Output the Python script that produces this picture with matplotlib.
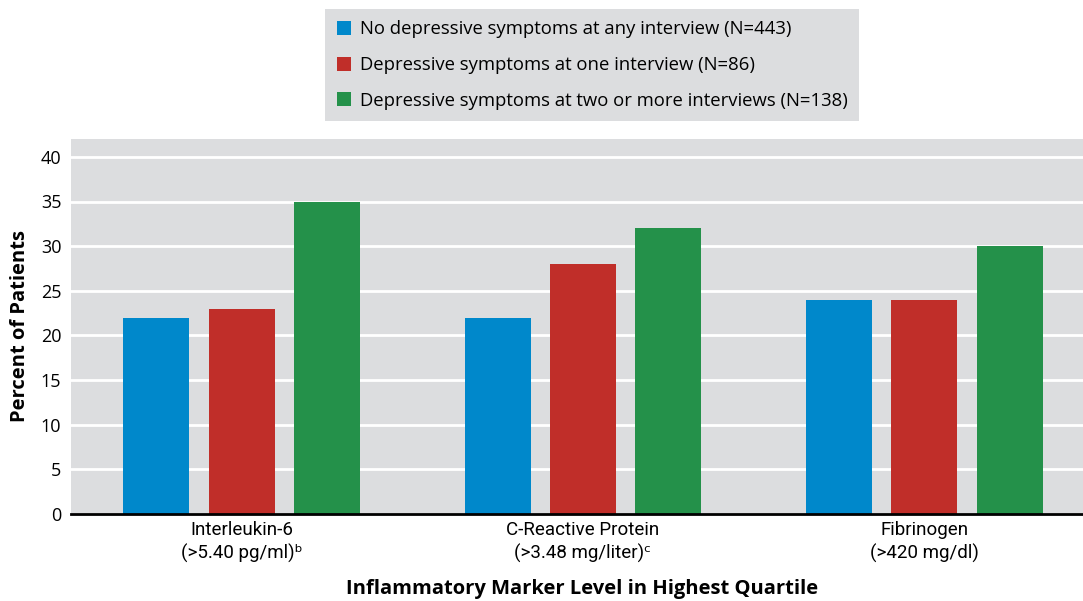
import numpy as np
import matplotlib.pyplot as plt
from matplotlib.patches import Patch

# data
markers = ["Interleukin-6\n(>5.40 pg/ml)ᵇ",
           "C-Reactive Protein\n(>3.48 mg/liter)ᶜ",
           "Fibrinogen\n(>420 mg/dl)"]
series = ["No depressive symptoms at any interview (N=443)",
          "Depressive symptoms at one interview (N=86)",
          "Depressive symptoms at two or more interviews (N=138)"]
no_symptoms = [22, 22, 24]
one_interview = [23, 28, 24]
two_plus = [35, 32, 30]
colors = ["#0088CB", "#C02E29", "#24914A"]

plt.rcParams["font.family"] = ["Open Sans", "DejaVu Sans"]

fig = plt.figure(figsize=(10.83, 6.01), dpi=100)
ax = fig.add_axes([71/1083, 87/601, 1012/1083, 375/601])
ax.set_facecolor("#DCDDDF")

x = np.arange(len(markers))
width = 0.193
step = 0.25
for i, vals in enumerate([no_symptoms, one_interview, two_plus]):
    ax.bar(x + (i - 1) * step, vals, width, color=colors[i], zorder=3)

ax.set_ylim(0, 42)
ax.set_xlim(-0.5, 2.465)
ax.set_yticks(range(0, 41, 5))
ax.yaxis.grid(True, color="white", linewidth=2, zorder=1)
ax.set_axisbelow(True)
for s in ["top", "right", "left"]:
    ax.spines[s].set_visible(False)
ax.spines["bottom"].set_linewidth(2)
ax.spines["bottom"].set_zorder(5)
ax.tick_params(axis="both", length=0, labelsize=13)
ax.tick_params(axis="y", pad=7)
ax.tick_params(axis="x", pad=5)
ax.set_xticks(x)
ax.set_xticklabels(markers, fontsize=13.5, linespacing=1.3,
                   family=["Roboto", "DejaVu Sans"])

ax.set_ylabel("Percent of Patients", fontsize=14.5, fontweight="bold", labelpad=8)
fig.text(582/1083, 1 - 589/601, "Inflammatory Marker Level in Highest Quartile",
         fontsize=14.5, fontweight="bold", ha="center", va="center")

handles = [Patch(facecolor=c, edgecolor="none") for c in colors]
leg = fig.legend(handles, series, loc="center", bbox_to_anchor=(592/1083, 1 - 65/601),
                 fontsize=13.3, frameon=True, fancybox=False, handlelength=0.8,
                 handleheight=0.8, handletextpad=0.45, labelspacing=0.95,
                 borderpad=0.62, borderaxespad=0)
leg.get_frame().set_facecolor("#DCDDDF")
leg.get_frame().set_edgecolor("none")
leg.get_frame().set_alpha(1)

fig.savefig("out.png", dpi=100)
